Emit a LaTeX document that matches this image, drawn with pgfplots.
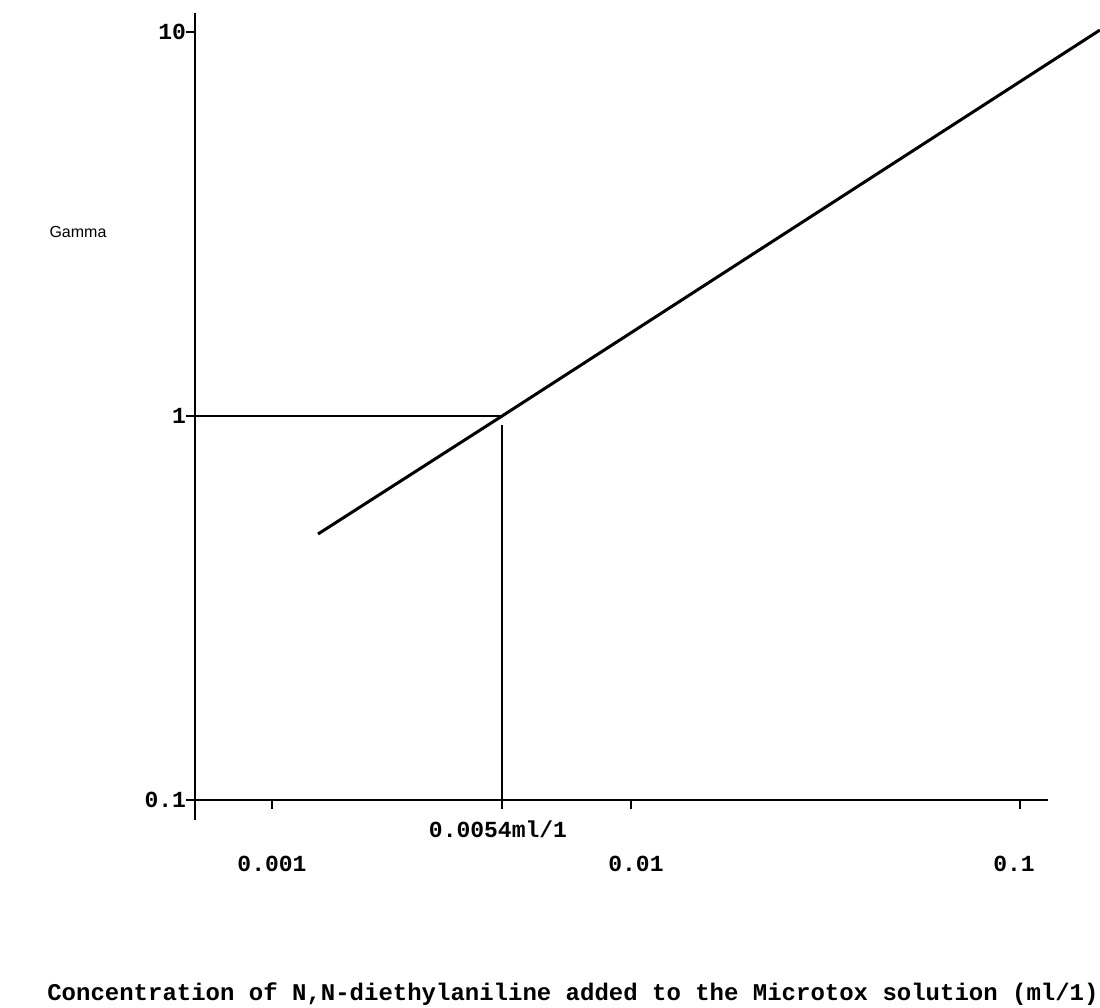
\documentclass[border=0pt]{standalone}
\usepackage{pgfplots}
\pgfplotsset{compat=1.18}
\usepackage{fontspec}
\setmainfont{Liberation Mono}
\newfontfamily\gamfont{Liberation Sans}
\begin{document}
\begin{tikzpicture}
\path[use as bounding box] (-97.5pt,-104pt) rectangle (452.5pt,400pt);
\begin{axis}[
  at={(0pt,0pt)}, anchor=south west,
  scale only axis, width=426.5pt, height=393.5pt,
  xmode=log, ymode=log,
  xmin=0.000622, xmax=0.11883,
  ymin=0.1, ymax=11.21,
  axis x line=bottom, axis y line=left,
  axis line style={-, line width=1.4pt, black},
  xtick={0.001,0.004121,0.009120,0.1},
  xticklabels={},
  ytick={0.1,1,10},
  yticklabels={\textbf{0.1},\textbf{1},\textbf{10}},
  yticklabel style={font=\fontsize{11.5}{12}\selectfont, xshift=3.5pt},
  minor tick length=0pt,
  minor tick style={draw=none},
  tick align=outside,
  major tick length=4.5pt,
  tick style={line width=1.2pt, black},
  clip=false,
]
% fitted response line
\addplot[black, line width=1.5pt] coordinates {(0.001327,0.4929) (0.004121,1.0) (0.1636,10.12)};
% reference lines at Gamma = 1
\addplot[black, line width=1pt] coordinates {(0.000622,1) (0.004121,1)};
\addplot[black, line width=1pt] coordinates {(0.004121,0.947) (0.004121,0.1)};
\end{axis}
% y axis extension below the x axis
\draw[line width=1.4pt] (0pt,0pt) -- (0pt,-10pt);
\node[font=\gamfont\fontsize{8}{9}\selectfont] at (-58.5pt,284pt) {Gamma};
\node[font=\fontsize{11.5}{12}\selectfont\bfseries] at (151.5pt,-14.5pt) {0.0054ml/1};
\node[font=\fontsize{11.5}{12}\selectfont\bfseries] at (38.5pt,-32pt) {0.001};
\node[font=\fontsize{11.5}{12}\selectfont\bfseries] at (220.5pt,-32pt) {0.01};
\node[font=\fontsize{11.5}{12}\selectfont\bfseries] at (409.5pt,-32pt) {0.1};
\node[font=\fontsize{12}{13}\selectfont\bfseries] at (189pt,-97pt) {Concentration of N,N-diethylaniline added to the Microtox solution (ml/1)};
\end{tikzpicture}
\end{document}
